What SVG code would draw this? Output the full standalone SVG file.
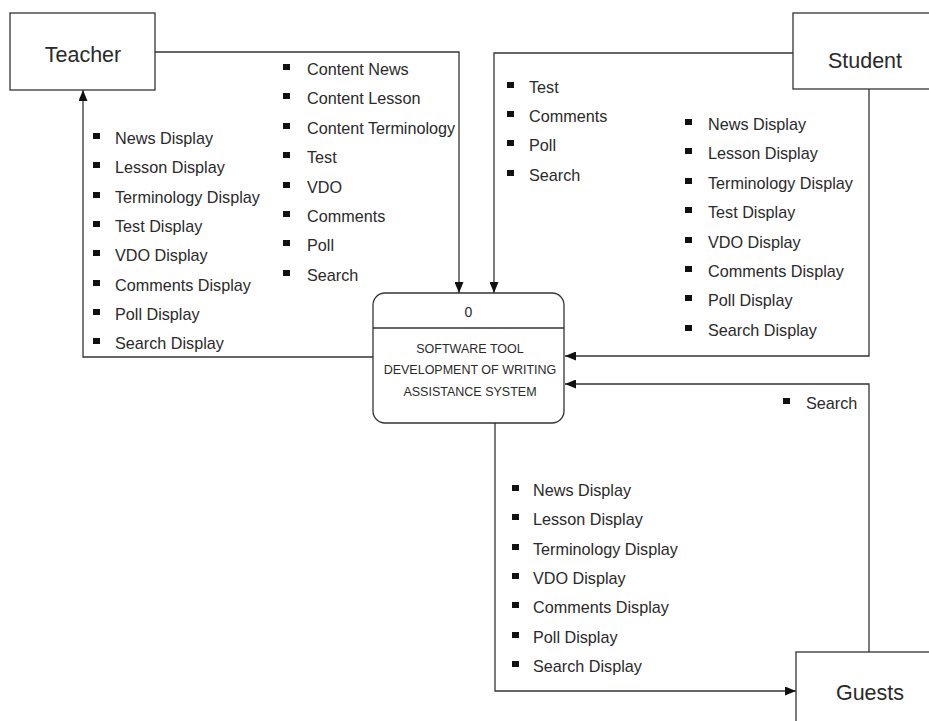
<svg xmlns="http://www.w3.org/2000/svg" width="929" height="721" viewBox="0 0 929 721">
<style>
.box{fill:#fff;stroke:#333;stroke-width:1.3}
.ln{fill:none;stroke:#333;stroke-width:1.3}
.ent{font-family:"Liberation Sans",Arial,sans-serif;font-size:21.5px;fill:#2a2a2a;text-anchor:middle}
.pt{font-family:"Liberation Sans",Arial,sans-serif;font-size:12.5px;fill:#2a2a2a;text-anchor:middle}
.lbl{font-family:"Liberation Sans",Arial,sans-serif;font-size:16.2px;fill:#2a2a2a}
.b{fill:#111}
</style>
<defs>
<marker id="arr" markerWidth="11" markerHeight="9" refX="11" refY="4.5" orient="auto" markerUnits="userSpaceOnUse">
<path d="M0,0 L11,4.5 L0,9 z" fill="#111"/>
</marker>
<rect id="bul" width="7" height="6"/>
</defs>
<rect width="929" height="721" fill="#fff"/>

<g id="connectors">
<path class="ln" d="M155,52 H459 V293" marker-end="url(#arr)"/>
<path class="ln" d="M793,53 H494 V293" marker-end="url(#arr)"/>
<path class="ln" d="M373,357 H83 V90" marker-end="url(#arr)"/>
<path class="ln" d="M869,89 V356 H565" marker-end="url(#arr)"/>
<path class="ln" d="M869,652 V384 H565" marker-end="url(#arr)"/>
<path class="ln" d="M495,423 V691 H796" marker-end="url(#arr)"/>
</g>

<g id="teacher">
<rect class="box" x="10" y="13" width="145" height="77"/>
<text class="ent" x="83" y="62">Teacher</text>
</g>

<g id="student">
<rect class="box" x="793" y="13" width="150" height="76"/>
<text class="ent" x="865" y="68">Student</text>
</g>

<g id="guests">
<rect class="box" x="796" y="652" width="150" height="80"/>
<text class="ent" x="870" y="700">Guests</text>
</g>

<g id="process">
<rect class="box" x="373" y="293" width="191" height="130" rx="12"/>
<line class="ln" x1="373" y1="328" x2="564" y2="328"/>
<text class="pt" x="468.5" y="317" style="font-size:14px">0</text>
<text class="pt" x="470" y="353">SOFTWARE TOOL</text>
<text class="pt" x="470" y="374">DEVELOPMENT OF WRITING</text>
<text class="pt" x="470" y="396">ASSISTANCE SYSTEM</text>
</g>

<g id="labels-teacher-out">
<use href="#bul" class="b" x="93" y="133"/><text class="lbl" x="115" y="144">News Display</text>
<use href="#bul" class="b" x="93" y="162"/><text class="lbl" x="115" y="173">Lesson Display</text>
<use href="#bul" class="b" x="93" y="192"/><text class="lbl" x="115" y="203">Terminology Display</text>
<use href="#bul" class="b" x="93" y="221"/><text class="lbl" x="115" y="232">Test Display</text>
<use href="#bul" class="b" x="93" y="250"/><text class="lbl" x="115" y="261">VDO Display</text>
<use href="#bul" class="b" x="93" y="280"/><text class="lbl" x="115" y="291">Comments Display</text>
<use href="#bul" class="b" x="93" y="309"/><text class="lbl" x="115" y="320">Poll Display</text>
<use href="#bul" class="b" x="93" y="338"/><text class="lbl" x="115" y="349">Search Display</text>
</g>

<g id="labels-teacher-in">
<use href="#bul" class="b" x="283" y="64"/><text class="lbl" x="307" y="75">Content News</text>
<use href="#bul" class="b" x="283" y="93"/><text class="lbl" x="307" y="104">Content Lesson</text>
<use href="#bul" class="b" x="283" y="123"/><text class="lbl" x="307" y="134">Content Terminology</text>
<use href="#bul" class="b" x="283" y="152"/><text class="lbl" x="307" y="163">Test</text>
<use href="#bul" class="b" x="283" y="182"/><text class="lbl" x="307" y="193">VDO</text>
<use href="#bul" class="b" x="283" y="211"/><text class="lbl" x="307" y="222">Comments</text>
<use href="#bul" class="b" x="283" y="240"/><text class="lbl" x="307" y="251">Poll</text>
<use href="#bul" class="b" x="283" y="270"/><text class="lbl" x="307" y="281">Search</text>
</g>

<g id="labels-student-in">
<use href="#bul" class="b" x="507" y="82"/><text class="lbl" x="529" y="93">Test</text>
<use href="#bul" class="b" x="507" y="111"/><text class="lbl" x="529" y="122">Comments</text>
<use href="#bul" class="b" x="507" y="140"/><text class="lbl" x="529" y="151">Poll</text>
<use href="#bul" class="b" x="507" y="170"/><text class="lbl" x="529" y="181">Search</text>
</g>

<g id="labels-student-out">
<use href="#bul" class="b" x="685" y="119"/><text class="lbl" x="708" y="130">News Display</text>
<use href="#bul" class="b" x="685" y="148"/><text class="lbl" x="708" y="159">Lesson Display</text>
<use href="#bul" class="b" x="685" y="178"/><text class="lbl" x="708" y="189">Terminology Display</text>
<use href="#bul" class="b" x="685" y="207"/><text class="lbl" x="708" y="218">Test Display</text>
<use href="#bul" class="b" x="685" y="237"/><text class="lbl" x="708" y="248">VDO Display</text>
<use href="#bul" class="b" x="685" y="266"/><text class="lbl" x="708" y="277">Comments Display</text>
<use href="#bul" class="b" x="685" y="295"/><text class="lbl" x="708" y="306">Poll Display</text>
<use href="#bul" class="b" x="685" y="325"/><text class="lbl" x="708" y="336">Search Display</text>
</g>

<g id="labels-guests-in">
<use href="#bul" class="b" x="783" y="398"/><text class="lbl" x="806" y="409">Search</text>
</g>

<g id="labels-guests-out">
<use href="#bul" class="b" x="512" y="485"/><text class="lbl" x="533" y="496">News Display</text>
<use href="#bul" class="b" x="512" y="514"/><text class="lbl" x="533" y="525">Lesson Display</text>
<use href="#bul" class="b" x="512" y="544"/><text class="lbl" x="533" y="555">Terminology Display</text>
<use href="#bul" class="b" x="512" y="573"/><text class="lbl" x="533" y="584">VDO Display</text>
<use href="#bul" class="b" x="512" y="602"/><text class="lbl" x="533" y="613">Comments Display</text>
<use href="#bul" class="b" x="512" y="632"/><text class="lbl" x="533" y="643">Poll Display</text>
<use href="#bul" class="b" x="512" y="661"/><text class="lbl" x="533" y="672">Search Display</text>
</g>
</svg>
